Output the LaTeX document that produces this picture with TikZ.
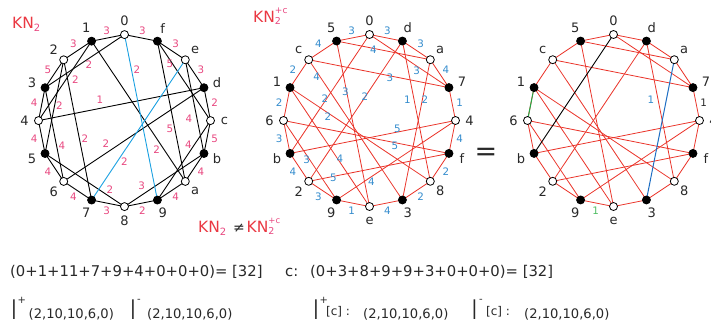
\documentclass[tikz,border=0pt]{standalone}
\usepackage{fontspec}
\setmainfont{DejaVu Sans}
\usetikzlibrary{calc}
\pgfdeclarelayer{bg}
\pgfsetlayers{bg,main}
\definecolor{kred}{RGB}{234,56,66}
\definecolor{kpink}{RGB}{232,72,128}
\definecolor{kblue}{RGB}{52,140,205}
\definecolor{lcyan}{RGB}{25,160,225}
\definecolor{lred}{RGB}{234,52,42}
\definecolor{lblue}{RGB}{30,110,195}
\definecolor{lgreen}{RGB}{40,165,70}
\definecolor{tgreen}{RGB}{80,190,100}
\definecolor{vgray}{RGB}{40,40,40}
\tikzset{
  vfull/.style={circle,draw=black,fill=black,line width=0.8pt,inner sep=0pt,minimum size=8pt},
  vhollow/.style={circle,draw=black,fill=white,line width=0.8pt,inner sep=0pt,minimum size=8pt},
  vname/.style={text=vgray,inner sep=0pt,font=\fontsize{13}{13}\selectfont},
  wpink/.style={text=kpink,inner sep=0pt,font=\fontsize{10.3}{10.3}\selectfont},
  wblue/.style={text=kblue,inner sep=0pt,font=\fontsize{10.3}{10.3}\selectfont},
  eblack/.style={draw=black,line width=0.9pt,line join=round},
  ecyan/.style={draw=lcyan,line width=0.9pt},
  ered/.style={draw=lred,line width=0.8pt,line join=round},
  txt/.style={anchor=base west,inner sep=0pt,text=vgray},
}
\begin{document}
\begin{tikzpicture}[x=1pt,y=-1pt]
\useasboundingbox (0,0) rectangle (711,327);
\coordinate (c1) at (124.5,120.6);
\coordinate (c2) at (369.5,120.5);
\coordinate (c3) at (613.5,120.5);

% ---------- graph 1 ----------
\foreach \n [count=\k from 0] in {0,f,e,d,c,b,a,9,8,7,6,5,4,3,2,1}{
  \ifodd\k
    \node[vfull] (g1-\n) at ($(c1)+({-90+22.5*\k}:86)$) {};
  \else
    \node[vhollow] (g1-\n) at ($(c1)+({-90+22.5*\k}:86)$) {};
  \fi
  \node[vname] (g1-l\n) at ($(c1)+({-90+22.5*\k}:100)$) {\n};
}
\foreach \w [count=\k from 0] in {3,3,3,2,5,4,4,2,3,4,4,4,4,5,3,3}{
  \node[wpink] (g1-o\k) at ($(c1)+({-90+22.5*\k+11.25}:92)$) {\w};
}
\begin{pgfonlayer}{bg}
\draw[eblack] (g1-0.center) -- (g1-f.center) -- (g1-e.center) -- (g1-d.center) -- (g1-c.center) -- (g1-b.center) -- (g1-a.center) -- (g1-9.center) -- (g1-8.center) -- (g1-7.center) -- (g1-6.center) -- (g1-5.center) -- (g1-4.center) -- (g1-3.center) -- (g1-2.center) -- (g1-1.center) -- cycle;
\draw[eblack] (g1-3.center) -- (g1-0.center);
\draw[eblack] (g1-1.center) -- (g1-4.center);
\draw[eblack] (g1-f.center) -- (g1-c.center);
\draw[eblack] (g1-4.center) -- (g1-d.center);
\draw[eblack] (g1-2.center) -- (g1-5.center);
\draw[eblack] (g1-e.center) -- (g1-b.center);
\draw[eblack] (g1-f.center) -- (g1-a.center);
\draw[eblack] (g1-3.center) -- (g1-6.center);
\draw[eblack] (g1-2.center) -- (g1-7.center);
\draw[eblack] (g1-6.center) -- (g1-d.center);
\draw[eblack] (g1-9.center) -- (g1-c.center);
\draw[eblack] (g1-1.center) -- (g1-a.center);
\draw[eblack] (g1-5.center) -- (g1-8.center);
\draw[eblack] (g1-8.center) -- (g1-b.center);
\draw[ecyan] (g1-0.center) -- (g1-9.center);
\draw[ecyan] (g1-e.center) -- (g1-7.center);
\end{pgfonlayer}
\node[wpink] (w1a) at (89,65) {2};
\node[wpink] (w1b) at (75.5,80) {2};
\node[wpink] (w1c) at (137,70) {2};
\node[wpink] (w1d) at (170,64) {5};
\node[wpink] (w1e) at (100,99.5) {1};
\node[wpink] (w1f) at (59.5,105.5) {2};
\node[wpink] (w1g) at (189,118.5) {4};
\node[wpink] (w1h) at (170,128.5) {5};
\node[wpink] (w1i) at (62,145.5) {4};
\node[wpink] (w1j) at (85,138.5) {2};
\node[wpink] (w1k) at (106,143.3) {2};
\node[wpink] (w1l) at (188.3,144.5) {4};
\node[wpink] (w1m) at (156.7,150) {2};
\node[wpink] (w1n) at (124.3,161.7) {2};
\node[wpink] (w1o) at (110,190) {2};
\node[wpink] (w1p) at (141.7,186) {3};

% ---------- graphs 2 and 3 ----------
\foreach \n [count=\k from 0] in {0,d,a,7,4,f,8,3,e,9,2,b,6,1,c,5}{
  \ifodd\k
    \node[vfull] (g2-\n) at ($(c2)+({-90+22.5*\k}:86)$) {};
    \node[vfull] (g3-\n) at ($(c3)+({-90+22.5*\k}:86)$) {};
  \else
    \node[vhollow] (g2-\n) at ($(c2)+({-90+22.5*\k}:86)$) {};
    \node[vhollow] (g3-\n) at ($(c3)+({-90+22.5*\k}:86)$) {};
  \fi
  \node[vname] (g2-l\n) at ($(c2)+({-90+22.5*\k}:100)$) {\n};
  \node[vname] (g3-l\n) at ($(c3)+({-90+22.5*\k}:100)$) {\n};
}
\foreach \w [count=\k from 0] in {3,3,4,1,4,2,2,4,1,3,4,3,2,2,4,3}{
  \node[wblue] (g2-o\k) at ($(c2)+({-90+22.5*\k+11.25}:92)$) {\w};
}
\begin{pgfonlayer}{bg}
\foreach \g in {g2,g3}{
\draw[ered] (\g-0.center) -- (\g-d.center) -- (\g-a.center) -- (\g-7.center) -- (\g-4.center) -- (\g-f.center) -- (\g-8.center) -- (\g-3.center) -- (\g-e.center) -- (\g-9.center) -- (\g-2.center) -- (\g-b.center) -- (\g-6.center) -- (\g-1.center) -- (\g-c.center) -- (\g-5.center) -- cycle;
\draw[ered] (\g-5.center) -- (\g-a.center);
\draw[ered] (\g-0.center) -- (\g-7.center);
\draw[ered] (\g-c.center) -- (\g-7.center);
\draw[ered] (\g-d.center) -- (\g-8.center);
\draw[ered] (\g-d.center) -- (\g-2.center);
\draw[ered] (\g-b.center) -- (\g-4.center);
\draw[ered] (\g-6.center) -- (\g-f.center);
\draw[ered] (\g-2.center) -- (\g-f.center);
\draw[ered] (\g-9.center) -- (\g-4.center);
\draw[ered] (\g-5.center) -- (\g-e.center);
\draw[ered] (\g-1.center) -- (\g-e.center);
\draw[ered] (\g-1.center) -- (\g-8.center);
\draw[ered] (\g-6.center) -- (\g-9.center);
\draw[ered] (\g-c.center) -- (\g-3.center);
}
\draw[ered] (g2-0.center) -- (g2-b.center);
\draw[ered] (g2-a.center) -- (g2-3.center);
\draw[draw=black,line width=0.9pt] (g3-0.center) -- (g3-b.center);
\draw[draw=lblue,line width=1pt] (g3-a.center) -- (g3-3.center);
\draw[draw=lgreen,line width=1pt] (g3-6.center) -- (g3-1.center);
\end{pgfonlayer}
\node[wblue] (w2a) at (373.3,50) {4};
\node[wblue] (w2b) at (416.7,71) {3};
\node[wblue] (w2c) at (316.7,77) {4};
\node[wblue] (w2d) at (390,77.5) {3};
\node[wblue] (w2e) at (345.5,92) {3};
\node[wblue] (w2f) at (325,98.3) {2};
\node[wblue] (w2g) at (365,96.7) {2};
\node[wblue] (w2h) at (407.5,100) {1};
\node[wblue] (w2i) at (425,100) {2};
\node[wblue] (w2j) at (328,117) {2};
\node[wblue] (w2k) at (397.5,128.5) {5};
\node[wblue] (w2l) at (395,145.5) {5};
\node[wblue] (w2m) at (306.7,160) {3};
\node[wblue] (w2n) at (340,159) {4};
\node[wblue] (w2o) at (333.3,178) {5};
\node[wblue] (w2p) at (371.5,182) {4};

% ---------- graph 3 labels ----------
\node[text=vgray,inner sep=0pt,font=\fontsize{10.3}{10.3}\selectfont] (w3a) at ($(c3)+({-90+22.5*3+11.25}:92)$) {1};
\node[text=tgreen,inner sep=0pt,font=\fontsize{10.3}{10.3}\selectfont] (w3b) at ($(c3)+({-90+22.5*8+11.25}:92)$) {1};
\node[text=kblue,inner sep=0pt,font=\fontsize{10.3}{10.3}\selectfont] (w3c) at (651,100) {1};
\node[anchor=base,inner sep=0pt,text=vgray,font=\fontsize{27}{27}\selectfont] (eq) at (486,160.5) {=};

% ---------- titles ----------
\node[anchor=base west,inner sep=0pt,text=kred,font=\fontsize{15.5}{15.5}\selectfont] (t1) at (12,28)
  {KN\raisebox{-3pt}{\fontsize{10}{10}\selectfont\textcolor{kpink}{2}}};
\node[anchor=base west,inner sep=0pt,text=kred,font=\fontsize{15.5}{15.5}\selectfont] (t2) at (253,22.3)
  {KN\rlap{\raisebox{-2.5pt}{\fontsize{9.5}{9.5}\selectfont\textcolor{kpink}{2}}}\raisebox{9pt}{\fontsize{9}{9}\selectfont\textcolor{kpink}{+c}}};
\node[anchor=base west,inner sep=0pt,text=kred,font=\fontsize{15.5}{15.5}\selectfont] (t3) at (198,232.3)
  {KN\raisebox{-3pt}{\fontsize{10}{10}\selectfont\textcolor{kpink}{2}}};
\node[anchor=base,inner sep=0pt,text=vgray,font=\fontsize{14}{14}\selectfont] (t4) at (239,232) {≠};
\node[anchor=base west,inner sep=0pt,text=kred,font=\fontsize{15.5}{15.5}\selectfont] (t5) at (246.5,232.3)
  {KN\rlap{\raisebox{-2.5pt}{\fontsize{9.5}{9.5}\selectfont\textcolor{kpink}{2}}}\raisebox{9pt}{\fontsize{8.5}{8.5}\selectfont\textcolor{kpink}{+c}}};

% ---------- bottom text ----------
\node[txt,font=\fontsize{14.8}{14.8}\selectfont] (s1) at (10,276) {(0+1+11+7+9+4+0+0+0)= [32]};
\node[txt,font=\fontsize{14.8}{14.8}\selectfont] (s2) at (285,276) {c:};
\node[txt,font=\fontsize{14.8}{14.8}\selectfont] (s3) at (310,276) {(0+3+8+9+9+3+0+0+0)= [32]};

\node[txt,font=\fontsize{27}{27}\selectfont] (i1) at (11.5,319) {\scalebox{0.6}[1]{I}};
\node[txt,font=\fontsize{10}{10}\selectfont] (i1s) at (17.5,303) {+};
\node[txt,font=\fontsize{13.1}{13.1}\selectfont] (i1v) at (28.5,318) {(2,10,10,6,0)};
\node[txt,font=\fontsize{27}{27}\selectfont] (i2) at (130.5,319) {\scalebox{0.6}[1]{I}};
\node[txt,font=\fontsize{10}{10}\selectfont] (i2s) at (137,302) {-};
\node[txt,font=\fontsize{13.1}{13.1}\selectfont] (i2v) at (147,318) {(2,10,10,6,0)};
\node[txt,font=\fontsize{27}{27}\selectfont] (i3) at (313.5,319) {\scalebox{0.6}[1]{I}};
\node[txt,font=\fontsize{10}{10}\selectfont] (i3s) at (319.5,303) {+};
\node[txt,font=\fontsize{12}{12}\selectfont] (i3c) at (326,315) {[c] :};
\node[txt,font=\fontsize{13.1}{13.1}\selectfont] (i3v) at (363,318) {(2,10,10,6,0)};
\node[txt,font=\fontsize{27}{27}\selectfont] (i4) at (472,319) {\scalebox{0.6}[1]{I}};
\node[txt,font=\fontsize{10}{10}\selectfont] (i4s) at (479,302) {-};
\node[txt,font=\fontsize{12}{12}\selectfont] (i4c) at (486,315) {[c] :};
\node[txt,font=\fontsize{13.1}{13.1}\selectfont] (i4v) at (524,318) {(2,10,10,6,0)};
\end{tikzpicture}
\end{document}
